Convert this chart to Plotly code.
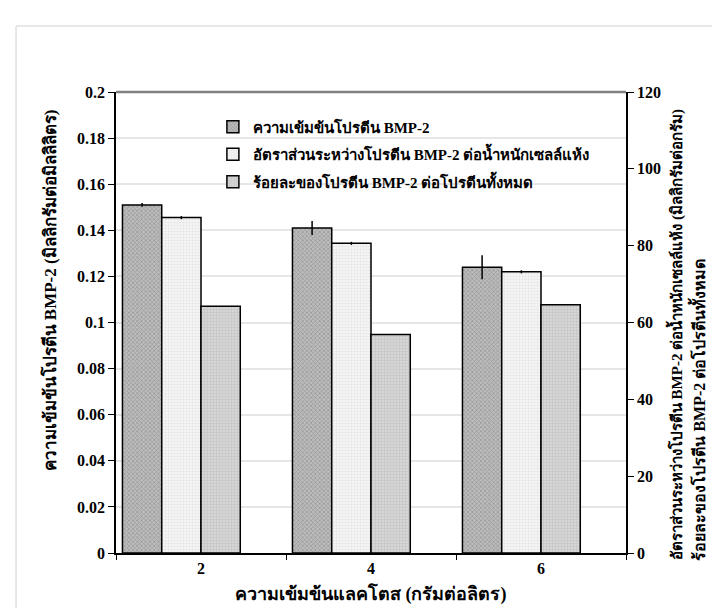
import plotly.graph_objects as go

# ---- data ----
categories = ["2", "4", "6"]
protein_conc = [0.151, 0.141, 0.124]          # mg/mL (left axis)
protein_conc_err = [0.0008, 0.003, 0.0052]
ratio_per_dcw = [87.3, 80.6, 73.2]             # mg/g (right axis)
ratio_per_dcw_err = [0.4, 0.4, 0.4]
percent_total = [64.2, 56.9, 64.6]             # % (right axis)
empty_slot = [0, 0, 0]

names = [
    "ความเข้มข้นโปรตีน BMP-2",
    "อัตราส่วนระหว่างโปรตีน BMP-2 ต่อน้ำหนักเซลล์แห้ง",
    "ร้อยละของโปรตีน BMP-2 ต่อโปรตีนทั้งหมด",
]
x_title = "ความเข้มข้นแลคโตส (กรัมต่อลิตร)"
y_title = "ความเข้มข้นโปรตีน BMP-2 (มิลลิกรัมต่อมิลลิลิตร)"
y2_title_1 = "อัตราส่วนระหว่างโปรตีน BMP-2 ต่อน้ำหนักเซลล์แห้ง (มิลลิกรัมต่อกรัม)"
y2_title_2 = "ร้อยละของโปรตีน BMP-2 ต่อโปรตีนทั้งหมด"

FONT = "Liberation Serif, Times New Roman, Noto Sans, DejaVu Serif, serif"

fig = go.Figure()
fig.add_trace(go.Bar(
    x=categories, y=protein_conc, name=names[0], yaxis="y", legendgroup="a",
    alignmentgroup="g", offsetgroup="1",
    marker=dict(color="#a8a8a8", line=dict(color="black", width=1.5),
                pattern=dict(shape="x", size=3, solidity=0.4,
                             fgcolor="#6e6e6e", bgcolor="#bdbdbd")),
    error_y=dict(type="data", array=protein_conc_err, color="black",
                 thickness=1.5, width=0),
))
fig.add_trace(go.Bar(
    x=categories, y=ratio_per_dcw, name=names[1], yaxis="y2", legendgroup="b",
    alignmentgroup="g", offsetgroup="2",
    marker=dict(color="#ececec", line=dict(color="black", width=1.5),
                pattern=dict(shape=".", size=3, solidity=0.4,
                             fgcolor="#d4d4d4", bgcolor="#f5f5f5")),
    error_y=dict(type="data", array=ratio_per_dcw_err, color="black",
                 thickness=1.5, width=0),
))
fig.add_trace(go.Bar(
    x=categories, y=percent_total, name=names[2], yaxis="y2", legendgroup="c",
    alignmentgroup="g", offsetgroup="3",
    marker=dict(color="#cbcbcb", line=dict(color="black", width=1.5),
                pattern=dict(shape="+", size=3, solidity=0.35,
                             fgcolor="#b0b0b0", bgcolor="#d6d6d6")),
))
fig.add_trace(go.Bar(
    x=categories, y=empty_slot, yaxis="y2", showlegend=False,
    alignmentgroup="g", offsetgroup="4",
    marker=dict(color="rgba(0,0,0,0)", line=dict(width=0)),
    hoverinfo="skip",
))

fig.update_layout(
    width=720, height=608,
    margin=dict(l=108, r=102, t=84, b=63),
    paper_bgcolor="white", plot_bgcolor="white",
    font=dict(family=FONT, size=16, color="black"),
    barmode="group", bargap=0.076, bargroupgap=0,
    showlegend=True,
    legend=dict(x=0.19, y=0.96, xanchor="left", yanchor="top",
                bgcolor="rgba(0,0,0,0)", font=dict(size=15, family=FONT, weight="bold"),
                itemwidth=30, tracegroupgap=5),
    xaxis=dict(type="category", showline=True, linecolor="black", linewidth=1.5,
               ticks="outside", ticklen=5, tickcolor="black", tickson="boundaries",
               tickfont=dict(size=16, family=FONT, weight="bold"),
               showgrid=False, mirror=False),
    yaxis=dict(range=[0, 0.2], dtick=0.02, showline=True, linecolor="black",
               linewidth=1.5, ticks="outside", ticklen=6, tickcolor="black",
               tickfont=dict(size=16, family=FONT, weight="bold"),
               showgrid=True, gridcolor="#e6e6e6", gridwidth=1.5, zeroline=False),
    yaxis2=dict(range=[0, 120], dtick=20, overlaying="y", side="right",
                showline=True, linecolor="black", linewidth=1.5,
                ticks="outside", ticklen=6, tickcolor="black",
                tickfont=dict(size=16, family=FONT, weight="bold"),
                showgrid=False, zeroline=False),
    shapes=[
        dict(type="line", xref="paper", yref="paper", x0=0, x1=1, y0=1, y1=1,
             line=dict(color="#808080", width=2.5)),
        dict(type="line", xref="paper", yref="paper", x0=-0.196, x1=-0.196,
             y0=-0.2, y1=1.143, line=dict(color="#e0e0e0", width=1.5)),
        dict(type="line", xref="paper", yref="paper", x0=-0.196, x1=1.3,
             y0=1.143, y1=1.143, line=dict(color="#e0e0e0", width=1.5)),
    ],
    annotations=[
        dict(text="<b>" + x_title + "</b>", xref="paper", yref="paper",
             x=0.5, y=-0.088, xanchor="center", yanchor="middle",
             showarrow=False, font=dict(size=18, family=FONT)),
        dict(text="<b>" + y_title + "</b>", xref="paper", yref="paper",
             x=-0.129, y=0.57, xanchor="center", yanchor="middle",
             textangle=-90, showarrow=False, font=dict(size=17, family=FONT)),
        dict(text="<b>" + y2_title_1 + "</b>", xref="paper", yref="paper",
             x=1.097, y=-0.02, xanchor="center", yanchor="bottom",
             textangle=-90, showarrow=False, font=dict(size=15, family=FONT)),
        dict(text="<b>" + y2_title_2 + "</b>", xref="paper", yref="paper",
             x=1.14, y=-0.02, xanchor="center", yanchor="bottom",
             textangle=-90, showarrow=False, font=dict(size=16, family=FONT)),
    ],
)

fig.write_html("out.html")
